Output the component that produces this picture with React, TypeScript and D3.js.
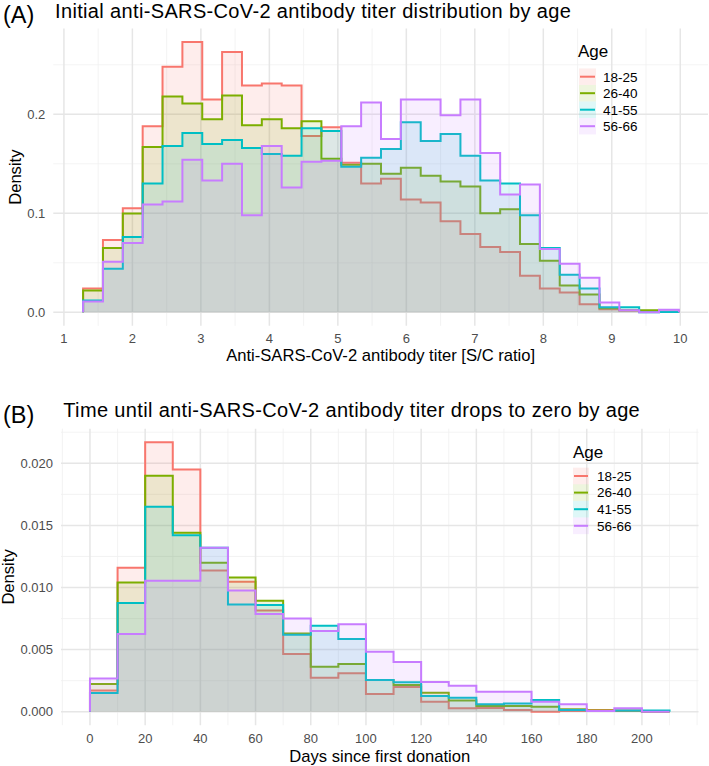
import React from "react";
import * as d3 from "d3";

// ---------- Data ----------
const AGE_GROUPS = ["18-25", "26-40", "41-55", "56-66"];
const COLORS = ["#F8766D", "#7CAE00", "#00BFC4", "#C77CFF"];

// Panel A: titer histogram, 30 bins of width 0.29 starting at 1.28
const A_BIN_START = 1.28;
const A_BIN_WIDTH = 0.29;
const A_18_25 = [0.024, 0.073, 0.105, 0.188, 0.248, 0.273, 0.215, 0.263, 0.229, 0.231, 0.229, 0.178, 0.187, 0.151, 0.130, 0.135, 0.114, 0.111, 0.092, 0.079, 0.066, 0.061, 0.037, 0.024, 0.020, 0.008, 0.003, 0.0017, 0.001, 0.0005];
const A_26_40 = [0.022, 0.065, 0.0997, 0.167, 0.218, 0.211, 0.195, 0.219, 0.189, 0.195, 0.186, 0.193, 0.155, 0.149, 0.150, 0.140, 0.146, 0.138, 0.132, 0.127, 0.100, 0.104, 0.069, 0.052, 0.027, 0.018, 0.004, 0.002, 0.002, 0.0005];
const A_41_55 = [0.012, 0.044, 0.076, 0.130, 0.168, 0.181, 0.170, 0.174, 0.166, 0.160, 0.158, 0.186, 0.183, 0.147, 0.156, 0.165, 0.192, 0.173, 0.180, 0.158, 0.133, 0.130, 0.098, 0.065, 0.038, 0.024, 0.005, 0.005, 0.0, 0.0003];
const A_56_66 = [0.011, 0.051, 0.070, 0.109, 0.112, 0.154, 0.133, 0.150, 0.098, 0.168, 0.126, 0.152, 0.153, 0.188, 0.212, 0.175, 0.215, 0.215, 0.199, 0.215, 0.161, 0.119, 0.129, 0.064, 0.049, 0.035, 0.0098, 0.002, 0.0, 0.0025];
const A_X_TICKS = [1, 2, 3, 4, 5, 6, 7, 8, 9, 10];
const A_Y_TICKS = [0, 0.1, 0.2];
const A_Y_LABELS = ["0.0", "0.1", "0.2"];

// Panel B: days histogram, 21 bins of width 10 starting at 0
const B_BIN_START = 0;
const B_BIN_WIDTH = 10;
const B_18_25 = [0.0017, 0.0116, 0.0217, 0.0195, 0.01136, 0.01047, 0.00814, 0.00465, 0.00274, 0.0031, 0.00143, 0.0020, 0.0008, 0.00027, 0.0003, 0.00013, 0.0, 0.00005, 0.00013, 0.00005, 0.0];
const B_26_40 = [0.00223, 0.0104, 0.0190, 0.0144, 0.0120, 0.0108, 0.00894, 0.0063, 0.00363, 0.00384, 0.00255, 0.00215, 0.00153, 0.0009, 0.00046, 0.00046, 0.0004, 0.0002, 0.0001, 0.0001, 0.0];
const B_41_55 = [0.0015, 0.00875, 0.0165, 0.0142, 0.0132, 0.00864, 0.0086, 0.0062, 0.00693, 0.00585, 0.00255, 0.00237, 0.00126, 0.00113, 0.0006, 0.00067, 0.00094, 0.00013, 0.00005, 0.0001, 0.0001];
const B_56_66 = [0.00268, 0.00626, 0.01055, 0.01055, 0.0132, 0.00975, 0.00787, 0.0075, 0.0065, 0.00704, 0.00483, 0.0040, 0.0024, 0.0021, 0.0016, 0.0016, 0.0008, 0.0006, 0.00005, 0.00027, 0.0];
const B_X_TICKS = [0, 20, 40, 60, 80, 100, 120, 140, 160, 180, 200];
const B_Y_TICKS = [0, 0.005, 0.01, 0.015, 0.02];
const B_Y_LABELS = ["0.000", "0.005", "0.010", "0.015", "0.020"];

const FONT = "'Liberation Sans', Arial, Helvetica, sans-serif";

type PanelProps = {
  tag: string;
  title: string;
  xTitle: string;
  series: number[][];
  binStart: number;
  binWidth: number;
  xDomain: [number, number];
  yDomain: [number, number];
  box: { left: number; right: number; top: number; bottom: number };
  xTicks: number[];
  xMinor: number[];
  yTicks: number[];
  yLabels: string[];
  yMinor: number[];
  tagPos: [number, number];
  titlePos: [number, number];
  yTitleX: number;
  xTitleY: number;
  xTickY: number;
  legend: { x: number; titleY: number; keyX: number; keyW: number; keyH: number; firstY: number; labelX: number };
};

function Panel(p: PanelProps) {
  const { box } = p;
  const x = d3.scaleLinear().domain(p.xDomain).range([box.left, box.right]);
  const y = d3.scaleLinear().domain(p.yDomain).range([box.bottom, box.top]);

  const area = d3
    .area<[number, number]>()
    .x((d) => x(d[0]))
    .y0(y(0))
    .y1((d) => y(d[1]))
    .curve(d3.curveStepAfter);

  const line = d3
    .line<[number, number]>()
    .x((d) => x(d[0]))
    .y((d) => y(d[1]));

  return (
    <g>
      {/* grid */}
      {p.yMinor.map((t) => (
        <line key={"ym" + t} x1={box.left} x2={box.right} y1={y(t)} y2={y(t)} stroke="#f0f0f0" strokeWidth={0.8} />
      ))}
      {p.xMinor.map((t) => (
        <line key={"xm" + t} x1={x(t)} x2={x(t)} y1={box.top} y2={box.bottom} stroke="#f0f0f0" strokeWidth={0.8} />
      ))}
      {p.yTicks.map((t) => (
        <line key={"y" + t} x1={box.left} x2={box.right} y1={y(t)} y2={y(t)} stroke="#e6e6e6" strokeWidth={1.5} />
      ))}
      {p.xTicks.map((t) => (
        <line key={"x" + t} x1={x(t)} x2={x(t)} y1={box.top} y2={box.bottom} stroke="#e6e6e6" strokeWidth={1.5} />
      ))}

      {/* histograms */}
      {p.series.map((vals, si) => {
        const edges = d3.range(vals.length + 1).map((i) => p.binStart + i * p.binWidth);
        const pts: [number, number][] = vals.map((v, i) => [edges[i], v]);
        pts.push([edges[vals.length], vals[vals.length - 1]]);
        const outline: [number, number][] = [[edges[0], 0]];
        vals.forEach((v, i) => {
          outline.push([edges[i], v]);
          outline.push([edges[i + 1], v]);
        });
        outline.push([edges[vals.length], 0]);
        return (
          <g key={si}>
            <path d={area(pts) || ""} fill={COLORS[si]} fillOpacity={0.13} stroke="none" />
            <path d={line(outline) || ""} fill="none" stroke={COLORS[si]} strokeWidth={2} strokeLinejoin="miter" />
          </g>
        );
      })}

      {/* axes labels */}
      {p.yTicks.map((t, i) => (
        <text key={"yl" + t} x={box.left - 8} y={y(t)} dy="0.36em" textAnchor="end" fontSize={13} fill="#4d4d4d" fontFamily={FONT}>
          {p.yLabels[i]}
        </text>
      ))}
      {p.xTicks.map((t) => (
        <text key={"xl" + t} x={x(t)} y={p.xTickY} textAnchor="middle" fontSize={13} fill="#4d4d4d" fontFamily={FONT}>
          {t}
        </text>
      ))}
      <text x={(box.left + box.right) / 2} y={p.xTitleY} textAnchor="middle" fontSize={16.6} fill="#000" fontFamily={FONT}>
        {p.xTitle}
      </text>
      <text
        transform={`translate(${p.yTitleX},${(box.top + box.bottom) / 2}) rotate(-90)`}
        textAnchor="middle"
        dy="0.36em"
        fontSize={16.6}
        fill="#000"
        fontFamily={FONT}
      >
        Density
      </text>

      {/* title */}
      <text x={p.tagPos[0]} y={p.tagPos[1]} fontSize={23.5} fill="#000" fontFamily={FONT}>
        {p.tag}
      </text>
      <text x={p.titlePos[0]} y={p.titlePos[1]} fontSize={20} letterSpacing={0.35} fill="#000" fontFamily={FONT}>
        {p.title}
      </text>

      {/* legend */}
      <text x={p.legend.x} y={p.legend.titleY} fontSize={17} fill="#000" fontFamily={FONT}>
        Age
      </text>
      {AGE_GROUPS.map((g, i) => {
        const cy = p.legend.firstY + i * p.legend.keyH;
        return (
          <g key={g}>
            <rect x={p.legend.keyX} y={cy - p.legend.keyH / 2} width={p.legend.keyW} height={p.legend.keyH} fill={COLORS[i]} fillOpacity={0.13} />
            <line x1={p.legend.keyX + 1} x2={p.legend.keyX + p.legend.keyW - 1} y1={cy} y2={cy} stroke={COLORS[i]} strokeWidth={2} />
            <text x={p.legend.labelX} y={cy} dy="0.36em" fontSize={13.5} fill="#000" fontFamily={FONT}>
              {g}
            </text>
          </g>
        );
      })}
    </g>
  );
}

export default function App() {
  const aMinorX = [1.5, 2.5, 3.5, 4.5, 5.5, 6.5, 7.5, 8.5, 9.5];
  const aMinorY = [0.05, 0.15, 0.25];
  const bMinorX = [-10, 10, 30, 50, 70, 90, 110, 130, 150, 170, 190, 210, 220];
  const bMinorY = [0.0025, 0.0075, 0.0125, 0.0175, 0.0225];
  return (
    <svg width={709} height={766} style={{ position: "absolute", left: 0, top: 0, background: "#fff" }}>
      <rect x={0} y={0} width={709} height={766} fill="#fff" />
      <Panel
        tag="(A)"
        title="Initial anti-SARS-CoV-2 antibody titer distribution by age"
        xTitle="Anti-SARS-CoV-2 antibody titer [S/C ratio]"
        series={[A_18_25, A_26_40, A_41_55, A_56_66]}
        binStart={A_BIN_START}
        binWidth={A_BIN_WIDTH}
        xDomain={[0.845, 10.405]}
        yDomain={[-0.01365, 0.28665]}
        box={{ left: 53.3, right: 708, top: 28.5, bottom: 325.8 }}
        xTicks={A_X_TICKS}
        xMinor={aMinorX}
        yTicks={A_Y_TICKS}
        yLabels={A_Y_LABELS}
        yMinor={aMinorY}
        tagPos={[3, 22.7]}
        titlePos={[55, 18.4]}
        yTitleX={15}
        xTitleY={361}
        xTickY={342.7}
        legend={{ x: 578, titleY: 57, keyX: 579, keyW: 17, keyH: 16.5, firstY: 76.7, labelX: 603 }}
      />
      <Panel
        tag="(B)"
        title="Time until anti-SARS-CoV-2 antibody titer drops to zero by age"
        xTitle="Days since first donation"
        series={[B_18_25, B_26_40, B_41_55, B_56_66]}
        binStart={B_BIN_START}
        binWidth={B_BIN_WIDTH}
        xDomain={[-10.5, 220.5]}
        yDomain={[-0.001085, 0.022785]}
        box={{ left: 61, right: 698.5, top: 428.7, bottom: 725.2 }}
        xTicks={B_X_TICKS}
        xMinor={bMinorX}
        yTicks={B_Y_TICKS}
        yLabels={B_Y_LABELS}
        yMinor={bMinorY}
        tagPos={[3, 422.7]}
        titlePos={[63.3, 417]}
        yTitleX={8.5}
        xTitleY={761.5}
        xTickY={742.7}
        legend={{ x: 573, titleY: 458, keyX: 573, keyW: 16, keyH: 16.6, firstY: 476, labelX: 597 }}
      />
    </svg>
  );
}
